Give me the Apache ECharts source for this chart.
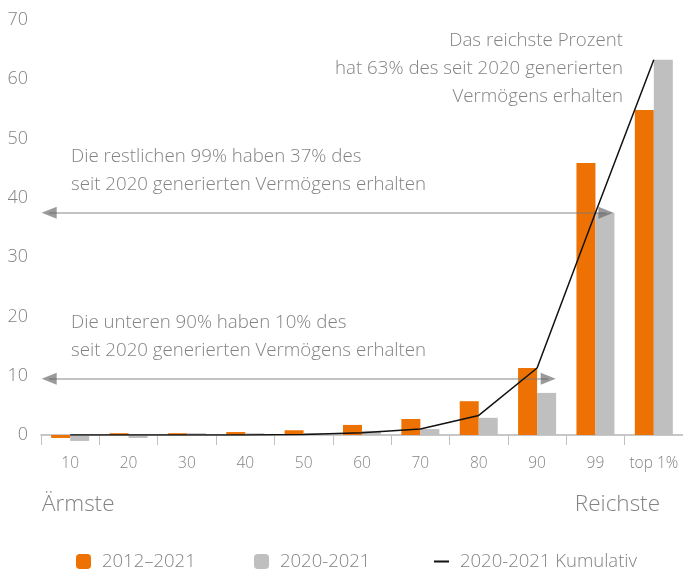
<!DOCTYPE html>
<html>
<head>
<meta charset="utf-8">
<script src="https://cdn.jsdelivr.net/npm/echarts@6/dist/echarts.min.js"></script>
<style>
  html, body { margin: 0; padding: 0; background: #fff; }
  #chart { width: 683px; height: 573px; }
</style>
</head>
<body>
<div id="chart"></div>
<script>
// Perzentile der Vermögensverteilung
const categories = ['10', '20', '30', '40', '50', '60', '70', '80', '90', '99', 'top 1%'];
const share2012 = [-0.5, 0.3, 0.3, 0.5, 0.8, 1.7, 2.7, 5.7, 11.3, 45.9, 54.8];
const share2020 = [-1.0, -0.5, 0.3, 0.3, 0.3, 0.7, 1.0, 2.9, 7.1, 37.5, 63.3];
const cumulative2020 = [0, 0, 0, 0, 0.1, 0.4, 1.0, 3.3, 11.3, 37.5, 63.3];
const yTicks = [0, 10, 20, 30, 40, 50, 60, 70];

// Pfeile: Höhe und Spitzen-Mitten in Kategorie-Einheiten (Bandmitte = Index)
const arrowUpper = { y: 37.5, from: -0.36, to: 9.18 };
const arrowLower = { y: 9.5, from: -0.36, to: 8.19 };

const orange = '#ee7203';
const grey = '#bfbfbf';
const textGrey = '#838383';
const font = '"Open Sans", Roboto, sans-serif';

const chart = echarts.init(document.getElementById('chart'));

function arrowLine(a) {
  return [{ coord: [a.from, a.y] }, { coord: [a.to, a.y] }];
}
function arrowHeads(a) {
  return [
    { coord: [a.from, a.y], symbolRotate: 90 },
    { coord: [a.to, a.y], symbolRotate: -90 }
  ];
}

const legendBase = {
  top: 552,
  padding: 0,
  itemWidth: 15,
  itemHeight: 15,
  textStyle: { color: textGrey, fontSize: 18.5, fontWeight: 300, fontFamily: font, padding: [0, 0, 0, 6] }
};

const noteStyle = {
  verticalAlign: 'top', lineHeight: 28,
  fontSize: 18.7, fontWeight: 300, fontFamily: font, fill: textGrey
};

chart.setOption({
  animation: false,
  textStyle: { fontFamily: font },
  grid: { left: 41, right: -2, top: 20, bottom: 138 },
  legend: [
    Object.assign({ data: ['2012–2021'], left: 76 }, legendBase),
    Object.assign({ data: ['2020-2021'], left: 254 }, legendBase),
    Object.assign({
      data: [{ name: '2020-2021 Kumulativ', itemStyle: { opacity: 0 } }],
      left: 433
    }, legendBase)
  ],
  xAxis: [
    {
      type: 'category',
      data: categories,
      axisLine: { lineStyle: { color: '#b5b5b5', width: 1.5 } },
      axisTick: { show: true, length: 10, lineStyle: { color: '#c0c0c0' } },
      axisLabel: { interval: 0, color: textGrey, fontSize: 15.5, fontWeight: 300, margin: 21 }
    },
    { type: 'value', min: -0.5, max: 10.5, show: false }
  ],
  yAxis: {
    type: 'value',
    min: yTicks[0],
    max: yTicks[yTicks.length - 1],
    interval: 10,
    axisLine: { show: false },
    axisTick: { show: false },
    splitLine: { show: false },
    axisLabel: { color: textGrey, fontSize: 18, fontWeight: 300, margin: 13 }
  },
  series: [
    {
      name: '2012–2021',
      type: 'bar',
      data: share2012,
      barWidth: 19,
      barGap: '0%',
      clip: false,
      itemStyle: { color: orange }
    },
    {
      name: '2020-2021',
      type: 'bar',
      data: share2020,
      barWidth: 19,
      clip: false,
      itemStyle: { color: grey }
    },
    {
      name: '2020-2021 Kumulativ',
      type: 'line',
      data: cumulative2020,
      symbol: 'none',
      z: 5,
      lineStyle: { color: '#111', width: 1.5 },
      itemStyle: { color: '#111' }
    },
    {
      name: 'arrows',
      type: 'line',
      xAxisIndex: 1,
      data: [],
      z: 6,
      markLine: {
        silent: true,
        symbol: ['none', 'none'],
        lineStyle: { color: 'rgba(120,120,120,0.45)', width: 2, type: 'solid' },
        label: { show: false },
        emphasis: { disabled: true },
        data: [arrowLine(arrowUpper), arrowLine(arrowLower)]
      },
      markPoint: {
        silent: true,
        symbol: 'triangle',
        symbolSize: [12, 15],
        itemStyle: { color: 'rgba(100,100,100,0.65)' },
        label: { show: false },
        data: arrowHeads(arrowUpper).concat(arrowHeads(arrowLower))
      }
    }
  ],
  graphic: [
    {
      type: 'text', x: 623, y: 27,
      style: Object.assign({
        text: 'Das reichste Prozent\nhat 63% des seit 2020 generierten\nVermögens erhalten',
        align: 'right'
      }, noteStyle)
    },
    {
      type: 'text', x: 71, y: 143,
      style: Object.assign({
        text: 'Die restlichen 99% haben 37% des\nseit 2020 generierten Vermögens erhalten',
        align: 'left'
      }, noteStyle)
    },
    {
      type: 'text', x: 71, y: 309,
      style: Object.assign({
        text: 'Die unteren 90% haben 10% des\nseit 2020 generierten Vermögens erhalten',
        align: 'left'
      }, noteStyle)
    },
    {
      type: 'text', x: 42, y: 505,
      style: {
        text: 'Ärmste', align: 'left', verticalAlign: 'middle',
        fontSize: 22.5, fontWeight: 300, fontFamily: font, fill: textGrey
      }
    },
    {
      type: 'text', x: 660, y: 505,
      style: {
        text: 'Reichste', align: 'right', verticalAlign: 'middle',
        fontSize: 22.5, fontWeight: 300, fontFamily: font, fill: textGrey
      }
    }
  ]
});
</script>
</body>
</html>
